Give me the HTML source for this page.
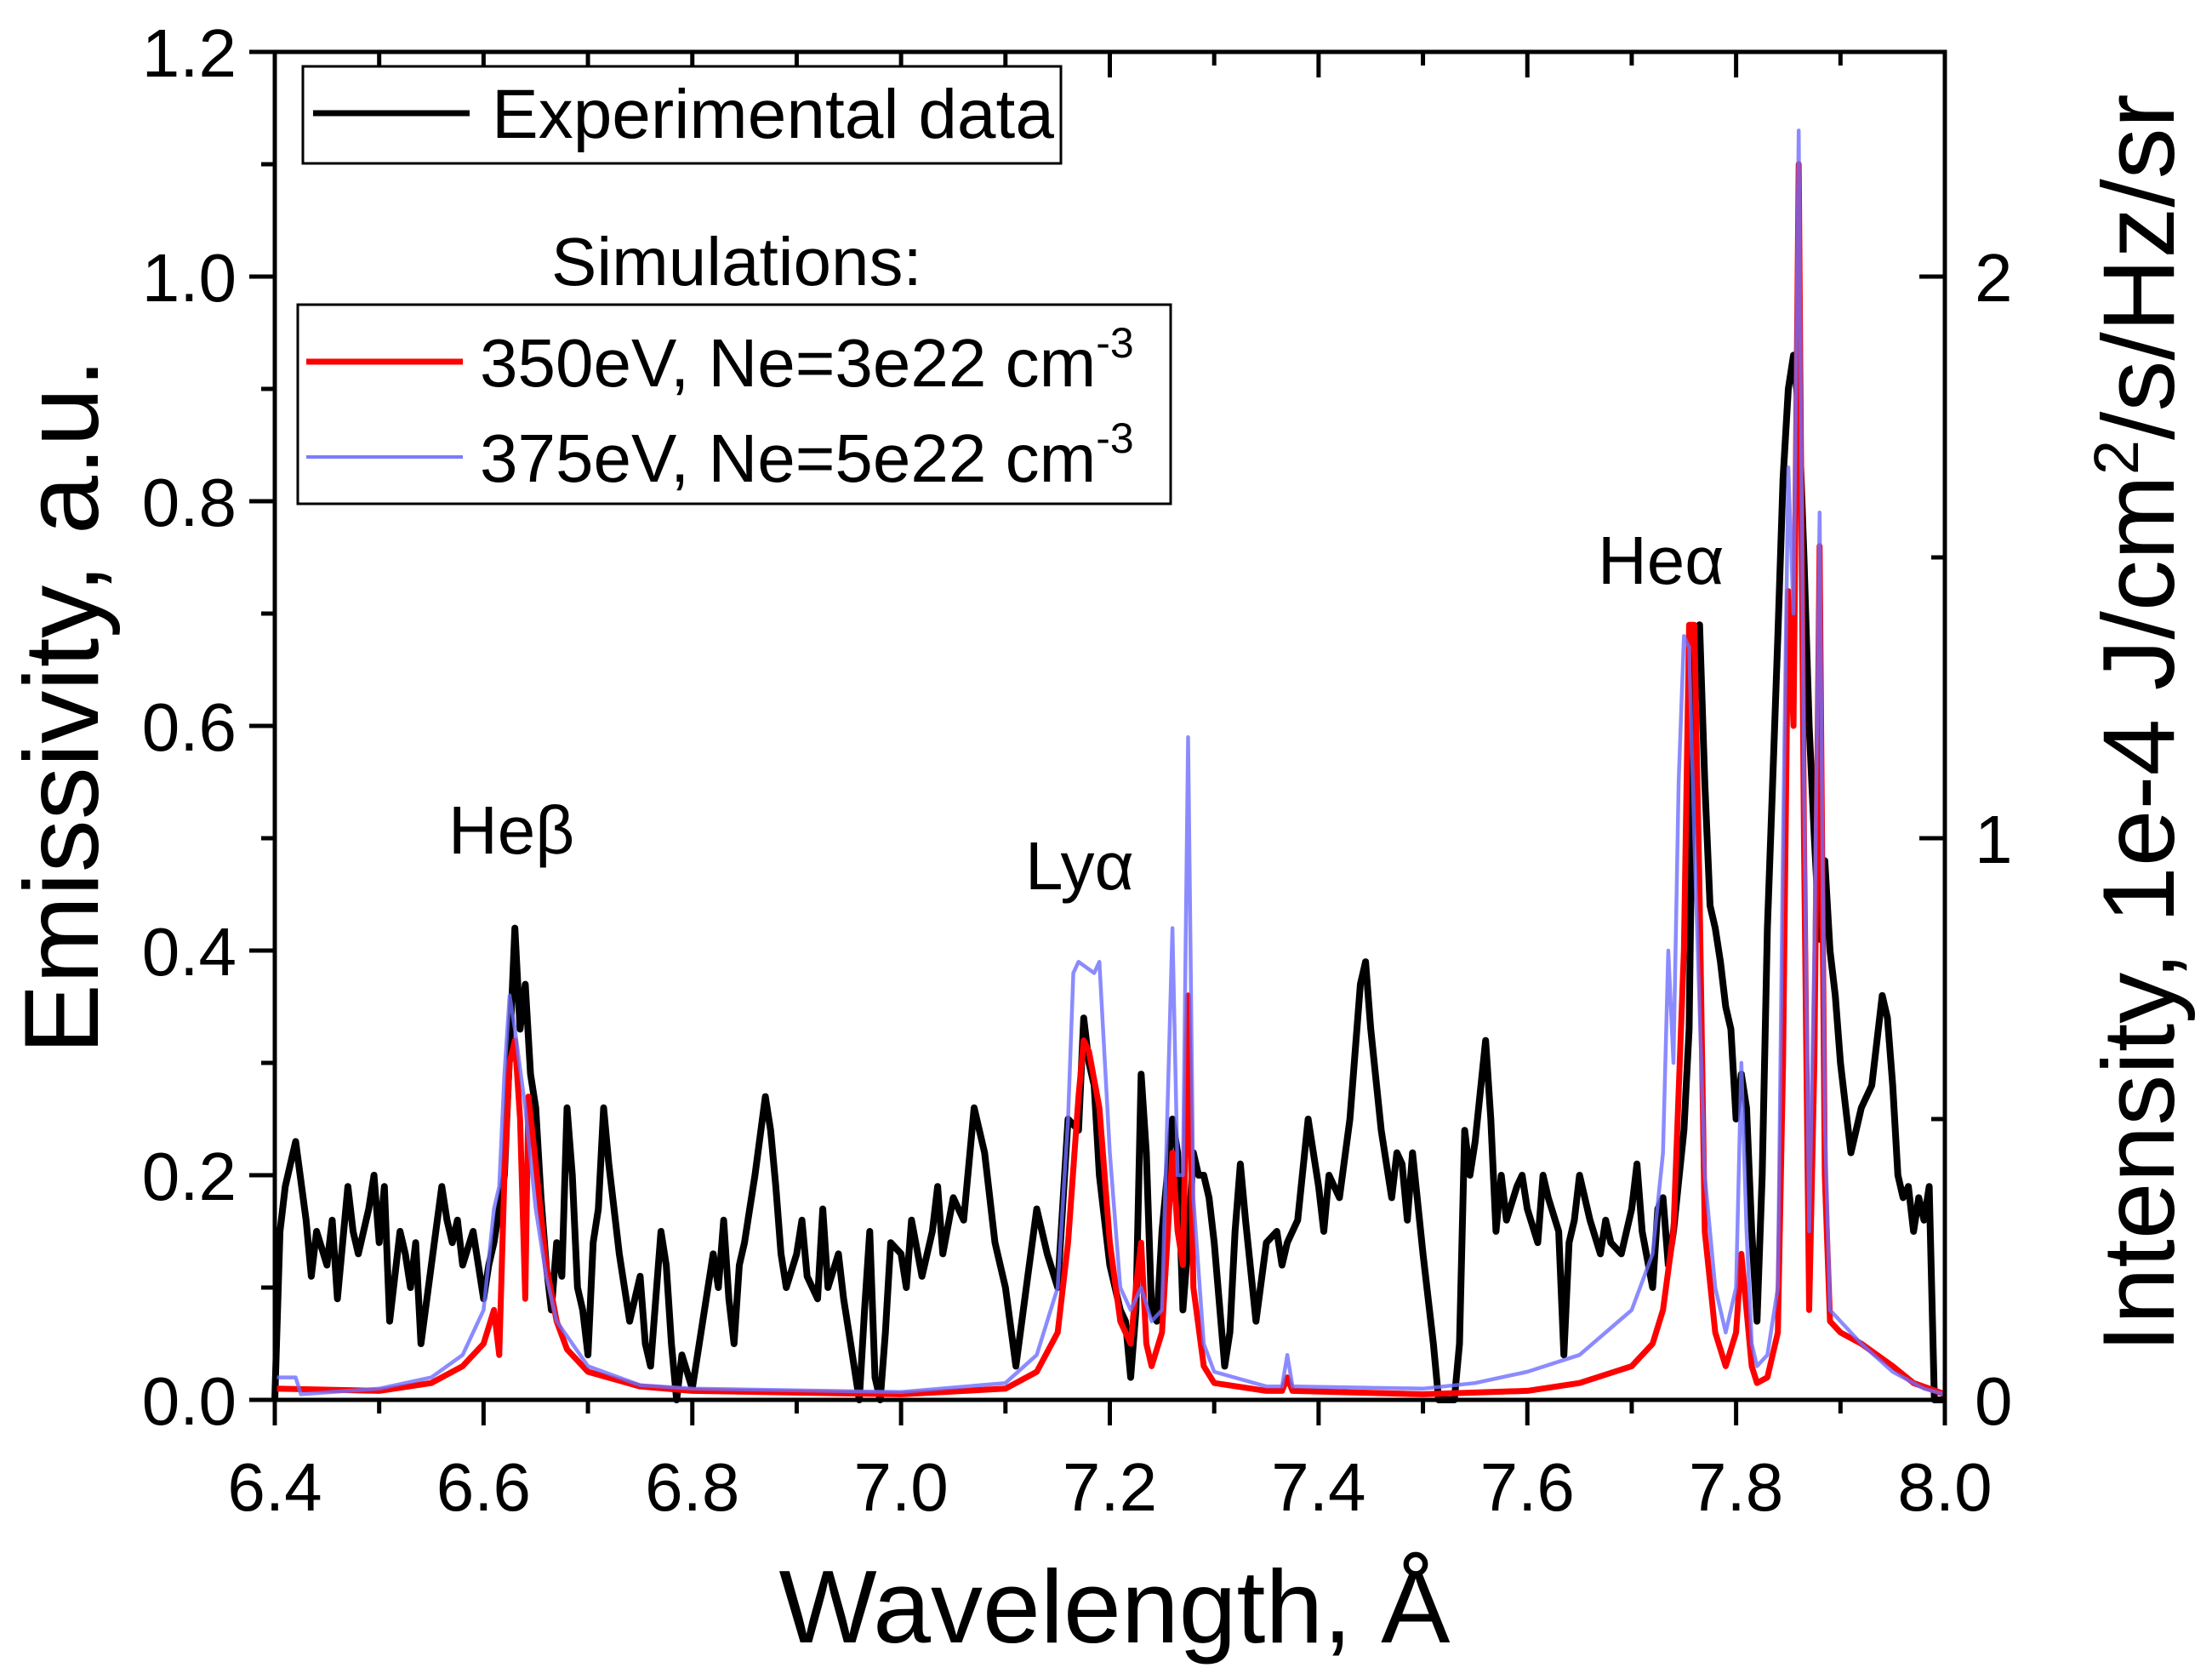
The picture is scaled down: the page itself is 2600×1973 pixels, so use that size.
<!DOCTYPE html>
<html><head><meta charset="utf-8"><style>
html,body{margin:0;padding:0;background:#fff;}
svg{display:block;font-family:"Liberation Sans",Arial,sans-serif;}
</style></head><body>
<svg id="chart" width="2600" height="1973" viewBox="0 0 2600 1973" xmlns="http://www.w3.org/2000/svg">
<g id="series"></g>
<g id="axes"></g>
<g id="labels">
<text x="527" y="1003" font-size="80">Heβ</text>
<text x="1205" y="1045" font-size="80">Lyα</text>
<text x="1878" y="686" font-size="80">Heα</text>
<text x="1310" y="1930" font-size="122" text-anchor="middle">Wavelength, Å</text>
<text transform="translate(115,830) rotate(-90)" font-size="124" text-anchor="middle">Emissivity, a.u.</text>
<text transform="translate(2555,850) rotate(-90)" font-size="120" text-anchor="middle">Intensity,  1e-4 J/cm<tspan font-size="74" dy="-42">2</tspan><tspan dy="42">/s/Hz/sr</tspan></text>
</g>
<g id="legend1">
<rect x="356" y="78" width="891" height="114" fill="#fff" stroke="#000" stroke-width="3"/>
<line x1="368" y1="133" x2="552" y2="133" stroke="#000" stroke-width="7"/>
<text x="578" y="162" font-size="82">Experimental data</text>
</g>
<text x="648" y="335" font-size="80">Simulations:</text>
<g id="legend2">
<rect x="350" y="358" width="1026" height="234" fill="#fff" stroke="#000" stroke-width="3"/>
<line x1="360" y1="425" x2="544" y2="425" stroke="#ff0000" stroke-width="7"/>
<text x="564" y="454" font-size="80">350eV, Ne=3e22 cm<tspan font-size="50" dy="-34">-3</tspan></text>
<line x1="360" y1="537" x2="544" y2="537" stroke="#7b7bff" stroke-width="4"/>
<text x="564" y="566" font-size="80">375eV, Ne=5e22 cm<tspan font-size="50" dy="-34">-3</tspan></text>
</g>
</svg>
<script>
const expX=[6.40,6.405,6.41,6.42,6.43,6.435,6.44,6.45,6.455,6.46,6.47,6.475,6.48,6.49,6.495,6.50,6.505,6.51,6.52,6.525,6.53,6.535,6.54,6.55,6.56,6.565,6.57,6.575,6.58,6.59,6.60,6.605,6.61,6.62,6.63,6.635,6.64,6.645,6.65,6.655,6.66,6.665,6.67,6.675,6.68,6.685,6.69,6.695,6.70,6.705,6.71,6.715,6.72,6.73,6.74,6.75,6.755,6.76,6.77,6.775,6.78,6.785,6.79,6.80,6.81,6.82,6.825,6.83,6.835,6.84,6.845,6.85,6.855,6.86,6.87,6.875,6.88,6.885,6.89,6.90,6.905,6.91,6.92,6.925,6.93,6.94,6.945,6.95,6.96,6.965,6.97,6.975,6.98,6.985,6.99,7.00,7.005,7.01,7.02,7.03,7.035,7.04,7.05,7.06,7.07,7.08,7.09,7.10,7.11,7.12,7.13,7.14,7.15,7.16,7.17,7.175,7.18,7.185,7.19,7.20,7.21,7.215,7.22,7.225,7.23,7.235,7.24,7.245,7.25,7.255,7.26,7.265,7.27,7.275,7.28,7.285,7.29,7.295,7.30,7.31,7.315,7.32,7.325,7.33,7.34,7.35,7.36,7.365,7.37,7.38,7.39,7.40,7.405,7.41,7.42,7.43,7.44,7.445,7.45,7.46,7.47,7.475,7.48,7.485,7.49,7.50,7.51,7.515,7.52,7.53,7.535,7.54,7.545,7.55,7.56,7.565,7.57,7.575,7.58,7.59,7.595,7.60,7.61,7.615,7.62,7.63,7.635,7.64,7.645,7.65,7.66,7.67,7.675,7.68,7.69,7.70,7.705,7.71,7.72,7.725,7.73,7.735,7.74,7.75,7.755,7.76,7.765,7.77,7.775,7.78,7.785,7.79,7.795,7.80,7.805,7.81,7.815,7.82,7.825,7.83,7.835,7.84,7.845,7.85,7.855,7.86,7.865,7.87,7.875,7.88,7.885,7.89,7.895,7.90,7.905,7.91,7.915,7.92,7.93,7.94,7.945,7.95,7.955,7.96,7.965,7.97,7.975,7.98,7.985,7.99,8.00];
const expY=[0.0,0.15,0.19,0.23,0.16,0.11,0.15,0.12,0.16,0.09,0.19,0.15,0.13,0.17,0.2,0.14,0.19,0.07,0.15,0.13,0.10,0.14,0.05,0.12,0.19,0.16,0.14,0.16,0.12,0.15,0.09,0.12,0.14,0.20,0.42,0.33,0.37,0.29,0.26,0.18,0.12,0.08,0.14,0.11,0.26,0.2,0.10,0.08,0.04,0.14,0.17,0.26,0.21,0.13,0.07,0.11,0.05,0.03,0.15,0.12,0.05,0.0,0.04,0.01,0.07,0.13,0.10,0.16,0.09,0.05,0.12,0.14,0.17,0.20,0.27,0.24,0.19,0.13,0.10,0.13,0.16,0.11,0.09,0.17,0.10,0.13,0.09,0.06,0.0,0.08,0.15,0.02,0.0,0.06,0.14,0.13,0.10,0.16,0.11,0.15,0.19,0.13,0.18,0.16,0.26,0.22,0.14,0.10,0.03,0.10,0.17,0.13,0.10,0.25,0.24,0.34,0.30,0.28,0.20,0.12,0.08,0.07,0.02,0.08,0.29,0.22,0.08,0.07,0.15,0.20,0.25,0.22,0.08,0.14,0.22,0.20,0.20,0.18,0.14,0.03,0.06,0.15,0.21,0.16,0.07,0.14,0.15,0.12,0.14,0.16,0.25,0.19,0.15,0.20,0.18,0.25,0.37,0.39,0.33,0.24,0.18,0.22,0.21,0.16,0.22,0.13,0.05,0.0,0.0,0.0,0.05,0.24,0.20,0.23,0.32,0.25,0.15,0.20,0.16,0.19,0.20,0.17,0.14,0.20,0.18,0.15,0.04,0.14,0.16,0.20,0.16,0.13,0.16,0.14,0.13,0.17,0.21,0.15,0.10,0.17,0.18,0.12,0.15,0.24,0.33,0.68,0.69,0.55,0.44,0.42,0.39,0.35,0.33,0.25,0.29,0.26,0.15,0.07,0.20,0.42,0.55,0.68,0.82,0.90,0.93,0.88,0.75,0.60,0.50,0.41,0.48,0.40,0.36,0.30,0.26,0.22,0.24,0.26,0.28,0.36,0.34,0.28,0.20,0.18,0.19,0.15,0.18,0.16,0.19,0.0,0.0];
const redX=[6.40,6.50,6.55,6.58,6.60,6.61,6.615,6.62,6.625,6.63,6.635,6.64,6.643,6.65,6.66,6.67,6.68,6.70,6.75,6.80,7.00,7.10,7.13,7.15,7.16,7.17,7.175,7.18,7.19,7.20,7.21,7.22,7.225,7.23,7.235,7.24,7.25,7.26,7.265,7.27,7.275,7.28,7.29,7.30,7.35,7.365,7.37,7.375,7.50,7.60,7.65,7.70,7.72,7.73,7.74,7.75,7.755,7.76,7.765,7.77,7.78,7.79,7.80,7.805,7.81,7.815,7.82,7.83,7.84,7.845,7.85,7.855,7.86,7.865,7.87,7.875,7.88,7.885,7.89,7.90,7.92,7.95,7.97,8.00];
const redY=[0.01,0.008,0.015,0.03,0.05,0.08,0.04,0.20,0.30,0.32,0.25,0.09,0.27,0.21,0.12,0.07,0.045,0.025,0.012,0.008,0.005,0.01,0.025,0.06,0.14,0.27,0.32,0.31,0.26,0.14,0.07,0.05,0.10,0.14,0.05,0.03,0.06,0.22,0.15,0.12,0.36,0.10,0.03,0.015,0.008,0.008,0.02,0.008,0.005,0.008,0.015,0.03,0.05,0.08,0.15,0.40,0.69,0.69,0.45,0.15,0.06,0.03,0.06,0.13,0.08,0.03,0.015,0.02,0.06,0.3,0.72,0.60,1.10,0.50,0.08,0.30,0.76,0.20,0.07,0.06,0.05,0.03,0.015,0.005];
const blueX=[6.40,6.42,6.425,6.50,6.55,6.58,6.60,6.61,6.615,6.62,6.625,6.63,6.64,6.65,6.66,6.67,6.70,6.75,6.80,7.00,7.10,7.13,7.15,7.16,7.165,7.17,7.185,7.19,7.20,7.21,7.22,7.23,7.24,7.25,7.26,7.265,7.27,7.275,7.28,7.29,7.30,7.35,7.365,7.37,7.375,7.50,7.55,7.60,7.65,7.70,7.72,7.73,7.735,7.74,7.745,7.75,7.755,7.76,7.77,7.78,7.79,7.80,7.805,7.81,7.815,7.82,7.83,7.84,7.845,7.85,7.855,7.86,7.865,7.87,7.875,7.88,7.885,7.89,7.90,7.92,7.95,7.98,8.00];
const blueY=[0.02,0.02,0.005,0.01,0.02,0.04,0.08,0.17,0.19,0.29,0.36,0.33,0.26,0.17,0.11,0.07,0.03,0.013,0.01,0.007,0.015,0.04,0.10,0.25,0.38,0.39,0.38,0.39,0.22,0.10,0.08,0.10,0.07,0.08,0.42,0.20,0.20,0.59,0.18,0.05,0.025,0.012,0.012,0.04,0.012,0.01,0.015,0.025,0.04,0.08,0.13,0.22,0.40,0.30,0.55,0.68,0.67,0.50,0.20,0.10,0.06,0.10,0.30,0.15,0.05,0.03,0.04,0.10,0.50,0.83,0.70,1.13,0.55,0.15,0.40,0.79,0.25,0.08,0.07,0.05,0.025,0.01,0.005];
const xTicks=[6.4,6.6,6.8,7.0,7.2,7.4,7.6,7.8,8.0];
const xTickLabels=["6.4","6.6","6.8","7.0","7.2","7.4","7.6","7.8","8.0"];
const yTicks=[0,0.2,0.4,0.6,0.8,1.0,1.2];
const yTickLabels=["0.0","0.2","0.4","0.6","0.8","1.0","1.2"];
const rTicks=[0,1,2];
const rTickLabels=["0","1","2"];

const L=323,R=2286,T=61,B=1645;
const X0=6.4,X1=8.0,Y0=0,Y1=1.2;
function sx(v){return L+(v-X0)/(X1-X0)*(R-L);}
function sy(v){return B-(v-Y0)/(Y1-Y0)*(B-T);}
function ry(v){return sy(v*0.5);}
const NS="http://www.w3.org/2000/svg";
function mk(tag,attrs,parent){const e=document.createElementNS(NS,tag);for(const k in attrs)e.setAttribute(k,attrs[k]);parent.appendChild(e);return e;}
const series=document.getElementById('series');
function path(xs,ys,color,w,name){
  let d='';for(let i=0;i<xs.length;i++){d+=(i?'L':'M')+sx(xs[i]).toFixed(1)+','+sy(ys[i]).toFixed(1);}
  const p=mk('path',{d:d,fill:'none',stroke:color,'stroke-width':w,'stroke-linejoin':'round'},series);
  
  
}
path(expX,expY,'#000',8,'experimental-line');
path(redX,redY,'#ff0000',7,'sim-350ev-line');
path(blueX,blueY,'rgba(110,110,255,0.8)',4.5,'sim-375ev-line');

const axes=document.getElementById('axes');
const frame=mk('rect',{x:L,y:T,width:R-L,height:B-T,fill:'none',stroke:'#000','stroke-width':5},axes);


const tk={stroke:'#000','stroke-width':5};
for(let i=0;i<xTicks.length;i++){
  const x=sx(xTicks[i]);
  mk('line',Object.assign({x1:x,y1:B,x2:x,y2:B+30},tk),axes);
  mk('line',Object.assign({x1:x,y1:T,x2:x,y2:T+30},tk),axes);
  const t=mk('text',{x:x,y:1775,'font-size':80,'text-anchor':'middle'},axes);
  t.textContent=xTickLabels[i];
  
  
  if(i<xTicks.length-1){const xm=sx(xTicks[i]+0.1);
    mk('line',Object.assign({x1:xm,y1:B,x2:xm,y2:B+16},tk),axes);
    mk('line',Object.assign({x1:xm,y1:T,x2:xm,y2:T+16},tk),axes);}
}
for(let i=0;i<yTicks.length;i++){
  const y=sy(yTicks[i]);
  mk('line',Object.assign({x1:L-30,y1:y,x2:L,y2:y},tk),axes);
  const t=mk('text',{x:L-45,y:y+29,'font-size':80,'text-anchor':'end'},axes);
  t.textContent=yTickLabels[i];
  
  
  if(i<yTicks.length-1){const ym=sy(yTicks[i]+0.1);
    mk('line',Object.assign({x1:L-16,y1:ym,x2:L,y2:ym},tk),axes);}
}
for(let i=0;i<rTicks.length;i++){
  const y=ry(rTicks[i]);
  mk('line',Object.assign({x1:R-30,y1:y,x2:R,y2:y},tk),axes);
  const t=mk('text',{x:R+35,y:y+29,'font-size':80},axes);
  t.textContent=rTickLabels[i];
  
  
}
for(const m of [0.5,1.5]){const y=ry(m);mk('line',Object.assign({x1:R-16,y1:y,x2:R,y2:y},tk),axes);}
</script>
</body></html>
